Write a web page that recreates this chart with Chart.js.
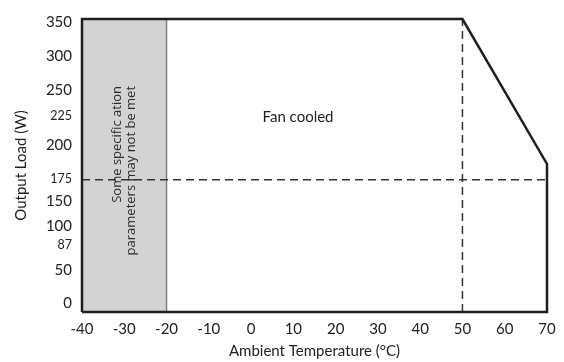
<!DOCTYPE html>
<html>
<head>
<meta charset="utf-8">
<script src="https://cdn.jsdelivr.net/npm/chart.js@4"></script>
<style>
  html, body { margin: 0; padding: 0; background: #fff; }
  #wrap { width: 564px; height: 362px; }
</style>
</head>
<body>
<div id="wrap"><canvas id="derating"></canvas></div>
<script>
// x axis (ambient temperature, degC)
const xTicks = [-40, -30, -20, -10, 0, 10, 20, 30, 40, 50, 60, 70];
// y axis of the original is not evenly spaced: labels sit at these axis values
const yTickLabels = ['0', '50', '87', '100', '150', '175', '200', '225', '250', '300', '350'];
const yTickAt = [10.6, 49.5, 80, 102.5, 133, 159, 199, 234.5, 265, 306, 346];
const smallLabels = ['87', '175', '225'];

// derating outline (temperature, load)
const outlineT = [-40, -40, 50, 70, 70, -40];
const outlineP = [0, 350, 350, 176.8, 0, 0];

// restricted region
const shadeT = [-40, -20];
const shadeP = [350, 350];

// dashed guides
const guideT = 50;
const guideP = 157.9;

const toPts = (xs, ys) => xs.map((x, i) => ({ x: x, y: ys[i] }));

// draws the text labels inside the plot
const notes = {
    id: 'notes',
    afterDatasetsDraw(chart) {
        const c = chart.ctx;
        const x = chart.scales.x, y = chart.scales.y;
        c.save();
        c.fillStyle = '#222';
        c.font = '15px Lato';
        c.textAlign = 'center';
        c.textBaseline = 'middle';
        c.fillText('Fan cooled', x.getPixelForValue(11.1), y.getPixelForValue(233));

        c.font = '13px "Open Sans"';
        c.fillStyle = '#2a2a2a';
        c.textAlign = 'right';
        c.translate(x.getPixelForValue(-30), y.getPixelForValue(270));
        c.rotate(-Math.PI / 2);
        c.fillText('Some specific ation', 0, -7);
        c.fillText('parameters may not be met', 0, 7);
        c.restore();
    }
};

// note: chart.js paints the first dataset on top
const ctx = document.getElementById('derating').getContext('2d');
new Chart(ctx, {
    type: 'line',
    data: {
        datasets: [
            {
                data: toPts(outlineT, outlineP),
                borderColor: '#1e1e1e',
                borderWidth: 2.5,
                pointRadius: 0,
                fill: false,
                clip: 5
            },
            {
                data: toPts([guideT, guideT], [0, 350]),
                borderColor: '#333',
                borderWidth: 1.5,
                borderDash: [8, 5],
                pointRadius: 0
            },
            {
                data: toPts([-40, 70], [guideP, guideP]),
                borderColor: '#333',
                borderWidth: 1.5,
                borderDash: [8, 5],
                pointRadius: 0
            },
            {
                data: toPts([-20, -20], [0, 350]),
                borderColor: '#808080',
                borderWidth: 1.5,
                pointRadius: 0
            },
            {
                data: toPts(shadeT, shadeP),
                fill: 'origin',
                backgroundColor: '#d3d3d3',
                borderWidth: 0,
                pointRadius: 0
            }
        ]
    },
    options: {
        responsive: true,
        maintainAspectRatio: false,
        animation: false,
        layout: { padding: { top: 9, right: 17 } },
        plugins: {
            legend: { display: false },
            tooltip: { enabled: false }
        },
        scales: {
            x: {
                type: 'linear',
                min: -40,
                max: 70,
                border: { display: false },
                grid: { display: false, drawTicks: false },
                afterBuildTicks: (s) => { s.ticks = xTicks.map(v => ({ value: v })); },
                afterFit: (s) => { s.height = 50; },
                ticks: {
                    padding: 8,
                    color: '#222',
                    font: { family: 'Lato', size: 15 }
                },
                title: {
                    display: true,
                    text: 'Ambient Temperature (°C)',
                    color: '#222',
                    font: { family: 'Lato', size: 15 },
                    padding: { top: 0, bottom: 2 }
                }
            },
            y: {
                type: 'linear',
                min: 0,
                max: 350,
                border: { display: false },
                grid: { display: false, drawTicks: false },
                afterBuildTicks: (s) => { s.ticks = yTickAt.map(v => ({ value: v })); },
                afterFit: (s) => { s.width = 82; },
                ticks: {
                    padding: 10,
                    color: '#222',
                    callback: (value, index) => yTickLabels[index],
                    font: (c) => ({
                        family: 'Lato',
                        size: smallLabels.includes(yTickLabels[c.index]) ? 12.5 : 15
                    })
                },
                title: {
                    display: true,
                    text: 'Output Load (W)',
                    color: '#222',
                    font: { family: 'Lato', size: 15 },
                    padding: { top: 12, bottom: 0 }
                }
            }
        }
    },
    plugins: [notes]
});
</script>
</body>
</html>
